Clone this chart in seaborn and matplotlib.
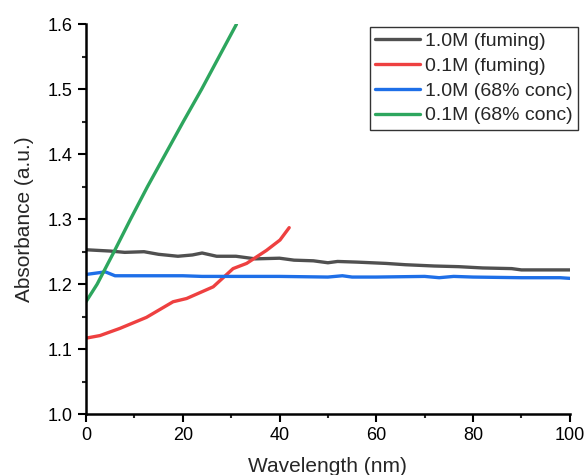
import numpy as np
import pandas as pd
import matplotlib
matplotlib.use("Agg")
import matplotlib.pyplot as plt
import seaborn as sns
from matplotlib.ticker import MultipleLocator

labels = ["1.0M (fuming)", "0.1M (fuming)", "1.0M (68% conc)", "0.1M (68% conc)"]
colors = ["#505050", "#EE4040", "#1E6FE8", "#2DA65E"]

gray_x = [0, 5, 8, 12, 15, 19, 22, 24, 27, 31, 35, 40, 43, 47, 50, 52, 56, 62, 66, 72, 77, 82, 88, 90, 100]
gray_y = [1.253, 1.251, 1.249, 1.250, 1.246, 1.243, 1.245, 1.248, 1.243, 1.243, 1.239, 1.240, 1.237,
          1.236, 1.233, 1.235, 1.234, 1.232, 1.230, 1.228, 1.227, 1.225, 1.224, 1.222, 1.222]

red_x = [0, 2.9, 7.0, 12.5, 18.0, 20.8, 26.3, 30.4, 33.2, 37.3, 40.1, 42]
red_y = [1.117, 1.121, 1.132, 1.149, 1.173, 1.178, 1.196, 1.224, 1.232, 1.252, 1.268, 1.287]

blue_x = [0, 2, 4, 6, 10, 20, 24, 30, 40, 50, 53, 55, 60, 70, 73, 76, 80, 90, 98, 100]
blue_y = [1.215, 1.217, 1.219, 1.213, 1.213, 1.213, 1.212, 1.212, 1.212, 1.211, 1.213, 1.211,
          1.211, 1.212, 1.210, 1.212, 1.211, 1.210, 1.210, 1.209]

green_x = [0, 2.3, 5.8, 9.2, 12.7, 16.4, 20.1, 23.9, 27.5, 31.1]
green_y = [1.173, 1.200, 1.250, 1.300, 1.350, 1.400, 1.450, 1.500, 1.550, 1.600]

frames = []
for lab, xs, ys in zip(labels, [gray_x, red_x, blue_x, green_x], [gray_y, red_y, blue_y, green_y]):
    frames.append(pd.DataFrame({"Wavelength": xs, "Absorbance": ys, "Series": lab}))
df = pd.concat(frames, ignore_index=True)

sns.set_style("ticks")
plt.rcParams["font.family"] = ["Liberation Sans", "DejaVu Sans"]

fig = plt.figure(figsize=(5.85, 4.75), dpi=100)
ax = fig.add_axes([0.147, 0.128, 0.827, 0.821])

sns.lineplot(data=df, x="Wavelength", y="Absorbance", hue="Series", hue_order=labels,
             palette=colors, linewidth=2.4, ax=ax, sort=False, estimator=None)

ax.set_xlim(0, 100)
ax.set_ylim(1.0, 1.6)
ax.xaxis.set_major_locator(MultipleLocator(20))
ax.xaxis.set_minor_locator(MultipleLocator(10))
ax.yaxis.set_major_locator(MultipleLocator(0.1))
ax.yaxis.set_minor_locator(MultipleLocator(0.05))
ax.tick_params(which="major", direction="out", length=6, width=1.5, labelsize=13, colors="black")
ax.tick_params(which="minor", direction="out", length=3, width=1.5)
for s in ["left", "bottom"]:
    ax.spines[s].set_linewidth(1.8)
    ax.spines[s].set_color("black")
sns.despine(ax=ax)
ax.set_xlabel("Wavelength (nm)", fontsize=15, labelpad=9)
ax.set_ylabel("Absorbance (a.u.)", fontsize=15, labelpad=10)

leg = ax.legend(loc="upper right", bbox_to_anchor=(1.018, 0.994), fontsize=14, frameon=True,
                fancybox=False, edgecolor="black", handlelength=2.3, handletextpad=0.25,
                borderpad=0.3, labelspacing=0.37, borderaxespad=0.0)
leg.get_frame().set_linewidth(1.0)

fig.savefig("out.png", dpi=100)
